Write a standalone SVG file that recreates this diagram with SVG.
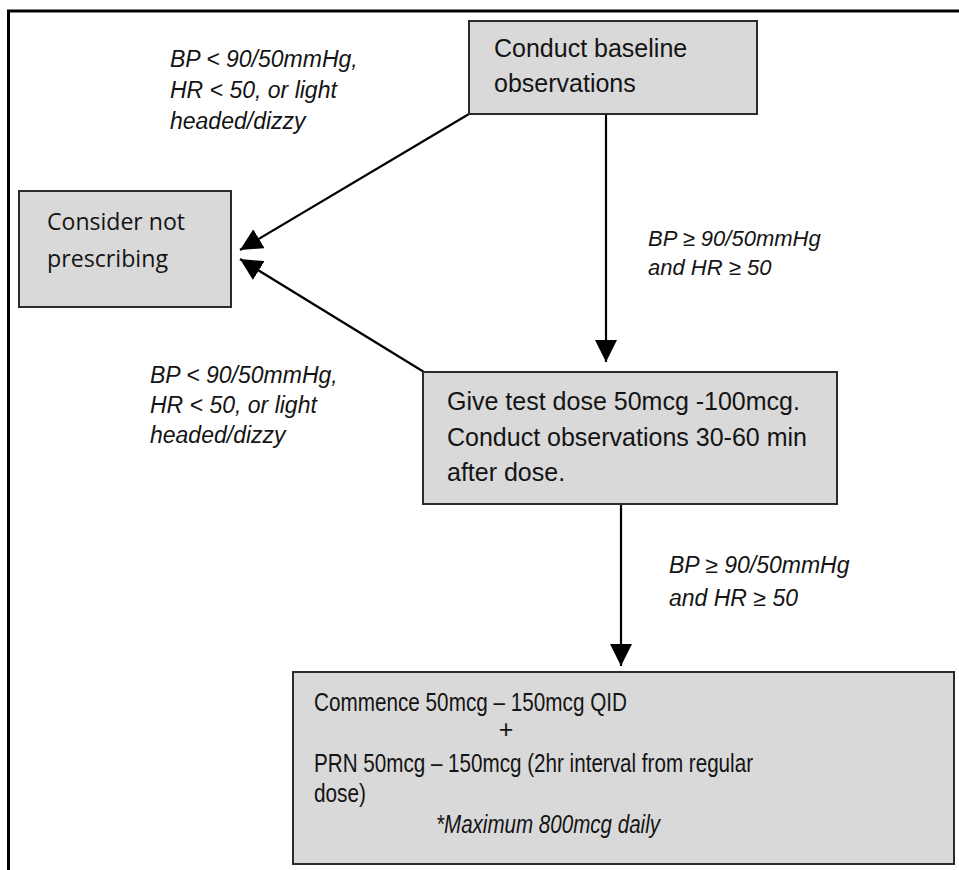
<svg xmlns="http://www.w3.org/2000/svg" width="959" height="870" viewBox="0 0 959 870">
  <style>
    .frame { fill: none; stroke: #000; stroke-width: 3; }
    .box { fill: #d9d9d9; stroke: #2b2b2b; stroke-width: 2; }
    .arrow { fill: none; stroke: #000; stroke-width: 2.2; }
    .txt { font-family: "Liberation Sans", Arial, sans-serif; font-size: 25px; fill: #141414; }
    .cal { font-family: "Open Sans", "Noto Sans", sans-serif; font-size: 23px; fill: #141414; }
    .lbl { font-family: "Liberation Sans", Arial, sans-serif; font-style: italic; font-size: 23px; fill: #141414; }
  </style>
  <defs>
    <marker id="head" markerUnits="userSpaceOnUse" markerWidth="22" markerHeight="22" viewBox="0 0 20 20" refX="20" refY="10" orient="auto">
      <path d="M0,0 L20,10 L0,20 Z" fill="#000"/>
    </marker>
  </defs>

  <rect width="959" height="870" fill="#fff"/>

  <!-- outer frame, open to the right and bottom -->
  <path class="frame" d="M8.5,872 V11 H961"/>

  <!-- connectors -->
  <g id="connectors">
    <line class="arrow" x1="469" y1="114" x2="240" y2="250" marker-end="url(#head)"/>
    <line class="arrow" x1="424" y1="372" x2="240" y2="259" marker-end="url(#head)"/>
    <line class="arrow" x1="606" y1="114" x2="606" y2="362" marker-end="url(#head)"/>
    <line class="arrow" x1="621" y1="504" x2="621" y2="666" marker-end="url(#head)"/>
  </g>

  <!-- edge labels -->
  <g id="labels">
    <text class="lbl" x="170" y="67">BP &lt; 90/50mmHg,</text>
    <text class="lbl" x="170" y="98">HR &lt; 50, or light</text>
    <text class="lbl" x="170" y="129">headed/dizzy</text>

    <text class="lbl" x="648" y="246" style="font-size:22px">BP ≥ 90/50mmHg</text>
    <text class="lbl" x="648" y="275" style="font-size:22px">and HR ≥ 50</text>

    <text class="lbl" x="150" y="383">BP &lt; 90/50mmHg,</text>
    <text class="lbl" x="150" y="413">HR &lt; 50, or light</text>
    <text class="lbl" x="150" y="443">headed/dizzy</text>

    <text class="lbl" x="669" y="573">BP ≥ 90/50mmHg</text>
    <text class="lbl" x="669" y="606">and HR ≥ 50</text>
  </g>

  <g id="baseline">
    <rect class="box" x="469" y="21" width="288" height="93"/>
    <text class="txt" x="494" y="57">Conduct baseline</text>
    <text class="txt" x="494" y="92">observations</text>
  </g>

  <g id="not-prescribing">
    <rect class="box" x="19" y="191" width="212" height="116"/>
    <text class="cal" x="47" y="230" textLength="138" lengthAdjust="spacingAndGlyphs">Consider not</text>
    <text class="cal" x="47" y="267" textLength="121" lengthAdjust="spacingAndGlyphs">prescribing</text>
  </g>

  <g id="test-dose">
    <rect class="box" x="423" y="372" width="414" height="132"/>
    <text class="txt" x="447" y="410">Give test dose 50mcg -100mcg.</text>
    <text class="txt" x="447" y="446">Conduct observations 30-60 min</text>
    <text class="txt" x="447" y="481">after dose.</text>
  </g>

  <g id="commence">
    <rect class="box" x="293" y="672" width="661" height="192"/>
    <text class="txt" x="314" y="711" textLength="313" lengthAdjust="spacingAndGlyphs">Commence 50mcg – 150mcg QID</text>
    <text class="txt" x="506" y="738" text-anchor="middle">+</text>
    <text class="txt" x="314" y="772" textLength="439" lengthAdjust="spacingAndGlyphs">PRN 50mcg – 150mcg (2hr interval from regular</text>
    <text class="txt" x="314" y="802" textLength="52" lengthAdjust="spacingAndGlyphs">dose)</text>
    <text class="txt" x="436" y="833" style="font-style:italic" textLength="224" lengthAdjust="spacingAndGlyphs">*Maximum 800mcg daily</text>
  </g>
</svg>
